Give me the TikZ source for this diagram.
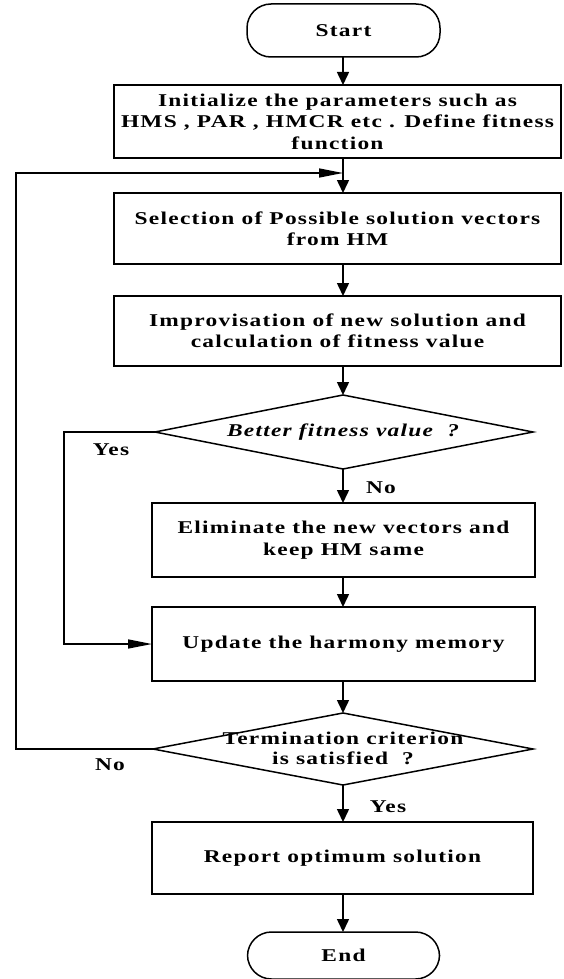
\documentclass[tikz,border=0pt]{standalone}
\usepackage{fontspec}
\setmainfont{Liberation Serif}[FakeStretch=1.3, LetterSpace=7]
\usetikzlibrary{arrows.meta}
\begin{document}
\begin{tikzpicture}[x=1pt,y=-1pt,
  every node/.style={font=\fontsize{18}{21.5}\selectfont\bfseries, inner sep=0pt, outer sep=0pt},
  procbox/.style={draw, line width=2pt, align=center},
  term/.style={draw, line width=1.5pt, rounded corners=24pt},
  conn/.style={line width=1.5pt},
  arr/.style={conn, -{Triangle[length=13pt,width=12pt]}},
  harr/.style={conn, -{Triangle[length=24pt,width=9pt]}}]
\useasboundingbox (0,0) rectangle (563,979);
\fill[white] (0,0) rectangle (563,979);
% axis
\coordinate (ax) at (343,0);
% terminals
\node[term, minimum width=193pt, minimum height=53pt] (start) at (343.5,30.5) {Start};
\node[term, minimum width=192pt, minimum height=47pt] (end) at (343.5,955.5) {End};
% boxes
\node[procbox, minimum width=447pt, minimum height=73pt] (b1) at (337.5,121.5)
  {Initialize the parameters such as\\HMS , PAR , HMCR etc . Define fitness\\function};
\node[procbox, minimum width=447pt, minimum height=71pt] (b2) at (337.5,228.5)
  {Selection of Possible solution vectors\\from HM};
\node[procbox, minimum width=447pt, minimum height=70pt] (b3) at (337.5,331)
  {Improvisation of new solution and\\calculation of fitness value};
\node[procbox, minimum width=383pt, minimum height=74pt] (b4) at (343.5,540)
  {Eliminate the new vectors and\\keep HM same};
\node[procbox, minimum width=383pt, minimum height=74pt] (b5) at (343.5,644)
  {Update the harmony memory};
\node[procbox, minimum width=381pt, minimum height=72pt] (b6) at (342.5,858)
  {Report optimum solution};
% diamond 1
\coordinate (d1l) at (155,432);
\coordinate (d1t) at (343,395);
\coordinate (d1r) at (533,432);
\coordinate (d1b) at (343,469);
\draw[conn] (d1l) -- (d1t) -- (d1r) -- (d1b) -- cycle;
\node (d1) at (343,432) {\itshape Better fitness value \ ?};
% diamond 2
\coordinate (d2l) at (153,749);
\coordinate (d2t) at (343,713);
\coordinate (d2r) at (533,749);
\coordinate (d2b) at (343,785);
\draw[conn] (d2l) -- (d2t) -- (d2r) -- (d2b) -- cycle;
\node[align=center, font=\fontsize{18}{20}\selectfont\bfseries] (d2) at (343,748) {Termination criterion\\is satisfied \ ?};
% main connectors
\draw[arr] (start.south -| ax) -- (b1.north -| ax);
\draw[arr] (b1.south -| ax) -- (b2.north -| ax);
\draw[arr] (b2.south -| ax) -- (b3.north -| ax);
\draw[arr] (b3.south -| ax) -- (d1t);
\draw[arr] (d1b) -- (b4.north -| ax);
\draw[arr] (b4.south -| ax) -- (b5.north -| ax);
\draw[arr] (b5.south -| ax) -- (d2t);
\draw[arr] (d2b) -- (b6.north -| ax);
\draw[arr] (b6.south -| ax) -- (end.north -| ax);
% yes branch of diamond 1
\coordinate (ysA) at (64,432);
\coordinate (ysB) at (64,644);
\draw[harr] (d1l) -- (ysA) -- (ysB) -- (b5.west);
% no loop of diamond 2
\coordinate (lpA) at (16,749);
\coordinate (lpB) at (16,173);
\coordinate (lpC) at (343,173);
\draw[harr] (d2l) -- (lpA) -- (lpB) -- (lpC);
% labels
\node (yes1) at (111,450) {Yes};
\node (no1) at (381,488) {No};
\node (no2) at (110,765) {No};
\node (yes2) at (388,807) {Yes};
\end{tikzpicture}
\end{document}
